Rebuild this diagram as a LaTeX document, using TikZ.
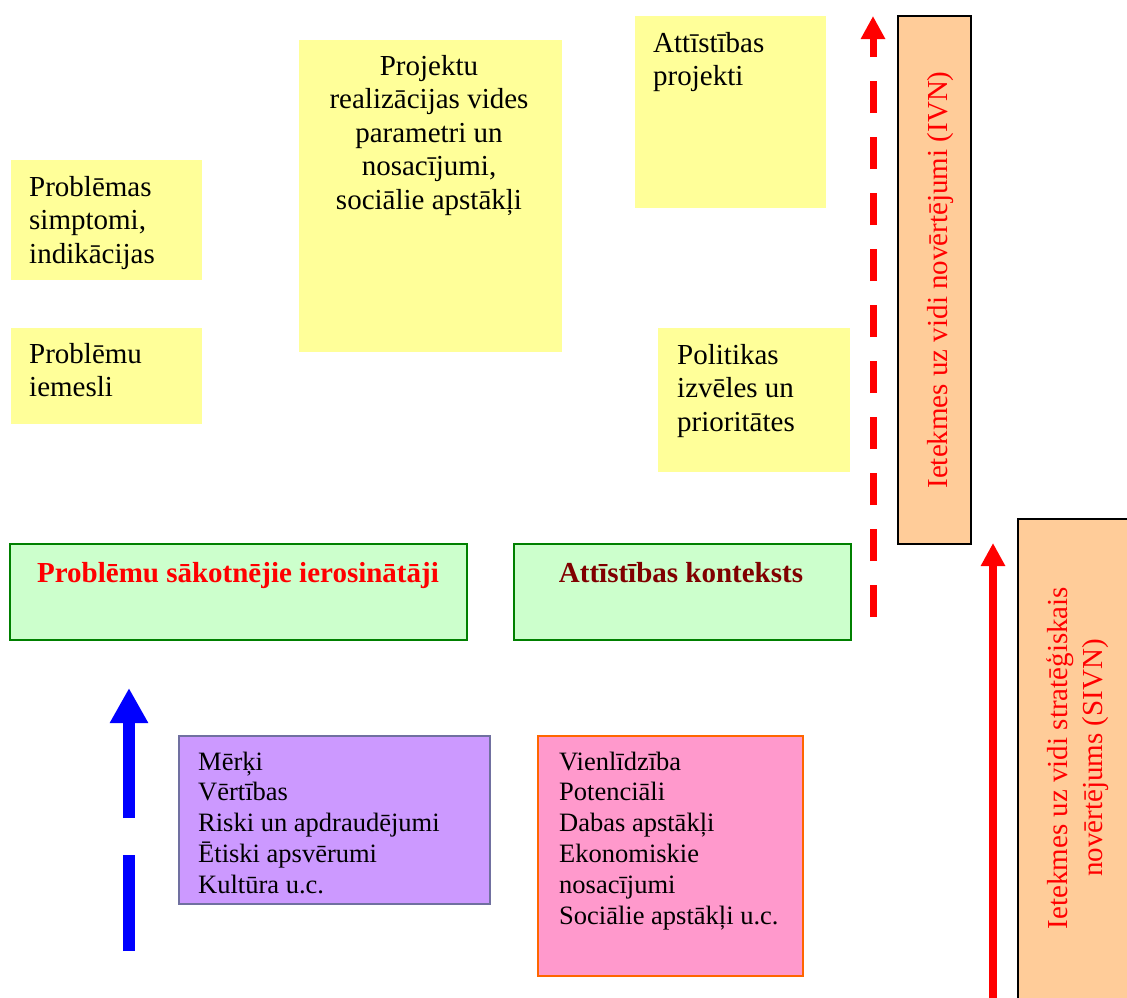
\documentclass[tikz,border=0pt]{standalone}
\usepackage{fontspec}
\setmainfont{Liberation Serif}
\usetikzlibrary{arrows.meta}
\definecolor{ylw}{HTML}{FFFF99}
\definecolor{grnfill}{HTML}{CCFFCC}
\definecolor{grnline}{HTML}{008000}
\definecolor{orn}{HTML}{FFCC99}
\definecolor{purfill}{HTML}{CC99FF}
\definecolor{purline}{HTML}{7070A0}
\definecolor{pnkfill}{HTML}{FF99CC}
\definecolor{pnkline}{HTML}{FF6600}
\definecolor{dkred}{RGB}{128,0,0}
\newcommand\lft[1]{\begin{tabular}[t]{@{}l@{}}#1\end{tabular}}
\newcommand\ctr[1]{\begin{tabular}[t]{@{}c@{}}#1\end{tabular}}
\tikzset{
  box/.style={inner sep=0, anchor=north west, line width=2pt},
  ybox/.style={box, fill=ylw},
  gbox/.style={box, fill=grnfill, draw=grnline},
  obox/.style={box, fill=orn, draw=black},
  bigtxt/.style={font=\fontsize{29}{33.5}\selectfont, inner sep=0},
  smalltxt/.style={font=\fontsize{26.5}{30.8}\selectfont, inner sep=0},
  titletxt/.style={font=\fontsize{29}{33.5}\selectfont\bfseries, inner sep=0, anchor=base},
  vtxt/.style={font=\fontsize{29}{35}\selectfont, inner sep=0, anchor=base, rotate=90, text=red},
  redarrow/.style={red, -{Triangle[width=23pt,length=23pt]}}
}
\begin{document}
\begin{tikzpicture}[x=1pt,y=-1pt]
\useasboundingbox (0,0) rectangle (1127,997);
% yellow boxes
\node[ybox, minimum width=191, minimum height=120] (b1) at (10,159) {};
\node[ybox, minimum width=191, minimum height=96] (b2) at (10,327) {};
\node[ybox, minimum width=263, minimum height=312] (b3) at (298,39) {};
\node[ybox, minimum width=191, minimum height=192] (b4) at (634,15) {};
\node[ybox, minimum width=192, minimum height=144] (b5) at (657,327) {};
\node[bigtxt, anchor=base west] (t1) at (29,196) {\lft{Problēmas\\simptomi,\\indikācijas}};
\node[bigtxt, anchor=base west] (t2) at (29,363) {\lft{Problēmu\\iemesli}};
\node[bigtxt, anchor=base] (t3) at (429,75) {\ctr{Projektu\\realizācijas vides\\parametri un\\nosacījumi,\\sociālie apstākļi}};
\node[bigtxt, anchor=base west] (t4) at (653,52) {\lft{Attīstības\\projekti}};
\node[bigtxt, anchor=base west] (t5) at (677,364) {\lft{Politikas\\izvēles un\\prioritātes}};
% green boxes
\node[gbox, minimum width=457, minimum height=96] (g1) at (9,543) {};
\node[gbox, minimum width=337, minimum height=96] (g2) at (513,543) {};
\node[titletxt, text=red] (gt1) at (238,582) {Problēmu sākotnējie ierosinātāji};
\node[titletxt, text=dkred] (gt2) at (681,582) {Attīstības konteksts};
% orange boxes
\node[obox, minimum width=73, minimum height=528] (o1) at (897,15) {};
\node[obox, minimum width=116, minimum height=482] (o2) at (1017,518) {};
\node[vtxt] (ot1) at (947,280) {Ietekmes uz vidi novērtējumi (IVN)};
\node[vtxt] (ot2) at (1067,758) {\ctr{Ietekmes uz vidi stratēģiskais\\novērtējums (SIVN)}};
% purple and pink boxes
\node[box, fill=purfill, draw=purline, minimum width=311, minimum height=168] (pu) at (178,735) {};
\node[box, fill=pnkfill, draw=pnkline, minimum width=265, minimum height=240] (pk) at (537,735) {};
\node[smalltxt, anchor=base west] (put) at (198,770) {\lft{Mērķi\\Vērtības\\Riski un apdraudējumi\\Ētiski apsvērumi\\Kultūra u.c.}};
\node[smalltxt, anchor=base west] (pkt) at (559,770) {\lft{Vienlīdzība\\Potenciāli\\Dabas apstākļi\\Ekonomiskie\\nosacījumi\\Sociālie apstākļi u.c.}};
% arrows
\coordinate (rdS) at (873,617);
\coordinate (rdE) at (873,16);
\coordinate (rsS) at (993,1000);
\coordinate (rsE) at (993,543);
\coordinate (blS) at (129,951);
\coordinate (blE) at (129,688);
\draw[redarrow, line width=7pt, dash pattern=on 32pt off 24pt] (rdS) -- (rdE);
\draw[redarrow, line width=8pt] (rsS) -- (rsE);
\draw[blue, line width=12pt, dash pattern=on 96pt off 37pt on 400pt off 0pt,
      -{Triangle[width=36pt,length=35pt]}] (blS) -- (blE);
\end{tikzpicture}
\end{document}
